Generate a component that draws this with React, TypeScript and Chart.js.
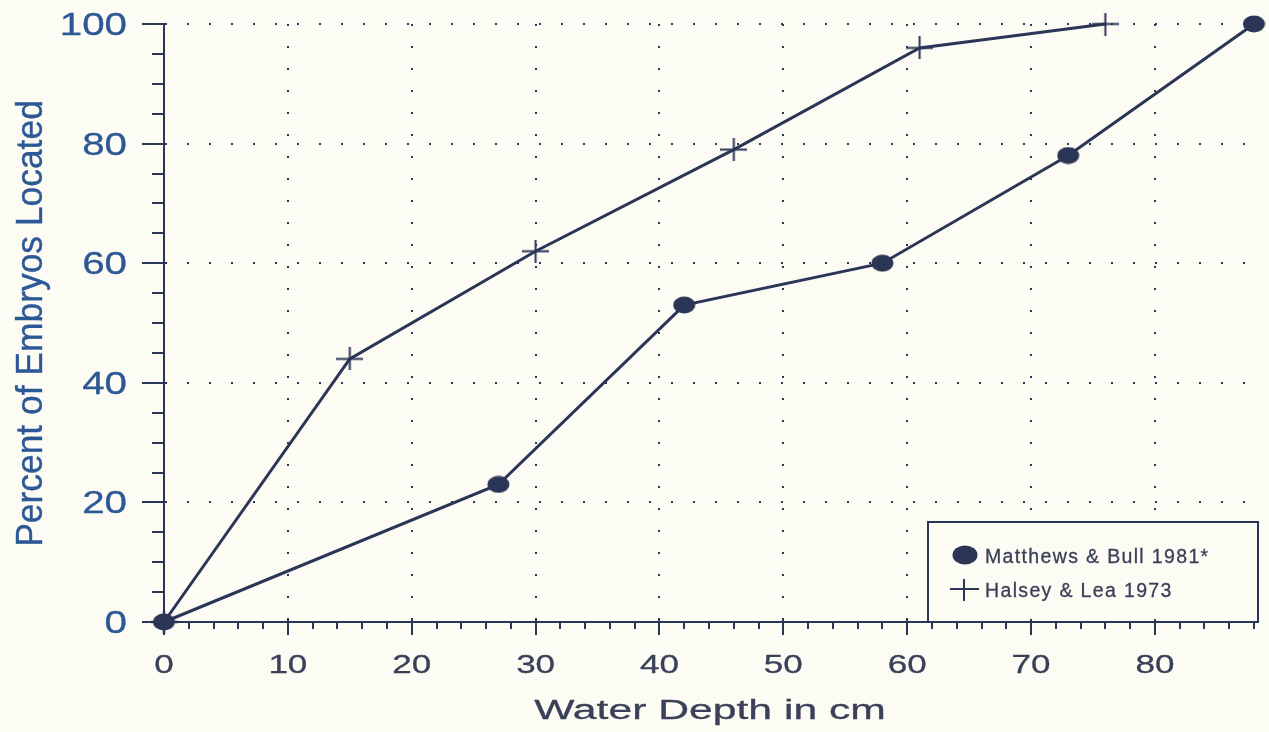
import React, { useEffect, useRef } from "react";
import { Chart, registerables } from "chart.js";

Chart.register(...registerables);

// ---- data ----
const matthewsDepth = [0, 27, 42, 58, 73, 88];
const matthewsPercent = [0, 23, 53, 60, 78, 100];
const halseyDepth = [0, 15, 30, 46, 61, 76];
const halseyPercent = [0, 44, 62, 79, 96, 100];

const seriesLabels = ["Matthews & Bull 1981*", "Halsey & Lea 1973"];
const xTickValues = [0, 10, 20, 30, 40, 50, 60, 70, 80];
const xTickLabels = ["0", "10", "20", "30", "40", "50", "60", "70", "80"];
const yTickValues = [0, 20, 40, 60, 80, 100];
const yTickLabels = ["0", "20", "40", "60", "80", "100"];
const xTitle = "Water Depth in cm";
const yTitle = "Percent of Embryos Located";

// ---- styles ----
const NAVY = "#2b3556";
const BLUE = "#2d5896";
const SLATE = "#3a4058";
const BG = "#fdfcf4";
const FONT = "'Liberation Sans', Arial, sans-serif";

function drawStretched(
  ctx: CanvasRenderingContext2D,
  text: string,
  x: number,
  y: number,
  align: "left" | "center" | "right",
  sx: number,
  sy: number,
  font: string,
  color: string,
  weight = 0.3,
  spacing = 0
) {
  ctx.save();
  ctx.font = font;
  (ctx as any).letterSpacing = `${spacing}px`;
  ctx.fillStyle = color;
  ctx.strokeStyle = color;
  ctx.lineWidth = weight;
  ctx.textBaseline = "alphabetic";
  ctx.textAlign = "left";
  const w = ctx.measureText(text).width * sx;
  const left = align === "center" ? x - w / 2 : align === "right" ? x - w : x;
  ctx.translate(left, y);
  ctx.scale(sx, sy);
  ctx.fillText(text, 0, 0);
  if (weight > 0) ctx.strokeText(text, 0, 0);
  ctx.restore();
}

function makeEllipse(w: number, h: number): HTMLCanvasElement {
  const c = document.createElement("canvas");
  c.width = w;
  c.height = h;
  const g = c.getContext("2d")!;
  g.fillStyle = NAVY;
  g.beginPath();
  g.ellipse(w / 2, h / 2, w / 2 - 0.5, h / 2 - 0.5, 0, 0, Math.PI * 2);
  g.fill();
  return c;
}

function makeCross(w: number, h: number): HTMLCanvasElement {
  const c = document.createElement("canvas");
  c.width = w;
  c.height = h;
  const g = c.getContext("2d")!;
  g.strokeStyle = NAVY;
  g.lineWidth = 2;
  g.beginPath();
  g.moveTo(0, h / 2);
  g.lineTo(w, h / 2);
  g.moveTo(w / 2, 0);
  g.lineTo(w / 2, h);
  g.stroke();
  return c;
}

const bgPlugin = {
  id: "bgFill",
  beforeDraw(chart: any) {
    const { ctx, width, height } = chart;
    ctx.save();
    ctx.fillStyle = BG;
    ctx.fillRect(0, 0, width, height);
    ctx.restore();
  },
};

const axisPlugin = {
  id: "axisDecor",
  afterDraw(chart: any) {
    const { ctx } = chart;
    const xs = chart.scales.x;
    const ys = chart.scales.y;
    const axisY = ys.getPixelForValue(0);
    const axisX = xs.getPixelForValue(0);
    ctx.save();
    ctx.strokeStyle = NAVY;
    for (let v = 0; v <= xs.max + 0.001; v += 2) {
      const px = Math.round(xs.getPixelForValue(v));
      const major = v % 10 === 0;
      ctx.lineWidth = 2;
      ctx.beginPath();
      ctx.moveTo(px, major ? axisY - 3 : axisY);
      ctx.lineTo(px, major ? axisY + 13 : axisY + 7);
      ctx.stroke();
    }
    for (let v = 0; v <= 100; v += 5) {
      const py = Math.round(ys.getPixelForValue(v));
      const major = v % 20 === 0;
      ctx.lineWidth = 2;
      ctx.beginPath();
      ctx.moveTo(major ? axisX - 22 : axisX - 12, py);
      ctx.lineTo(axisX + 1, py);
      ctx.stroke();
    }
    ctx.restore();

    xTickValues.forEach((v, i) => {
      const px = xs.getPixelForValue(v);
      drawStretched(ctx, xTickLabels[i], px, 673, "center", 1.4, 1, `25px ${FONT}`, SLATE);
    });
    yTickValues.forEach((v, i) => {
      const py = ys.getPixelForValue(v);
      drawStretched(ctx, yTickLabels[i], 127, py + 11, "right", 1.3, 1, `31px ${FONT}`, BLUE);
    });

    const cx = (chart.chartArea.left + chart.chartArea.right) / 2;
    drawStretched(ctx, xTitle, cx + 1, 719, "center", 1.58, 1, `27px ${FONT}`, SLATE);
    ctx.save();
    ctx.translate(42, 323.5);
    ctx.rotate(-Math.PI / 2);
    drawStretched(ctx, yTitle, 0, 0, "center", 1.18, 1.25, `30px ${FONT}`, BLUE);
    ctx.restore();
  },
};

const legendPlugin = {
  id: "boxLegend",
  afterDatasetsDraw(chart: any) {
    const { ctx } = chart;
    const left = 928, top = 522, right = 1258, bottom = 622;
    ctx.save();
    ctx.fillStyle = BG;
    ctx.fillRect(left, top, right - left, bottom - top);
    ctx.strokeStyle = NAVY;
    ctx.lineWidth = 2;
    ctx.strokeRect(left, top, right - left, bottom - top);
    ctx.fillStyle = NAVY;
    ctx.beginPath();
    ctx.ellipse(965, 555, 12.5, 9.5, 0, 0, Math.PI * 2);
    ctx.fill();
    ctx.lineWidth = 2;
    ctx.beginPath();
    ctx.moveTo(950, 589);
    ctx.lineTo(979, 589);
    ctx.moveTo(964, 579);
    ctx.lineTo(964, 601);
    ctx.stroke();
    ctx.restore();
    drawStretched(ctx, chart.data.datasets[0].label, 985, 563, "left", 1.0, 1, `19.5px ${FONT}`, SLATE, 0.3, 1.35);
    drawStretched(ctx, chart.data.datasets[1].label, 985, 597, "left", 1.0, 1, `19.5px ${FONT}`, SLATE, 0.3, 1.35);
  },
};

export default function App() {
  const ref = useRef<HTMLCanvasElement | null>(null);

  useEffect(() => {
    document.body.style.margin = "0";
    document.body.style.background = BG;
    const canvas = ref.current;
    if (!canvas) return;
    const dot = makeEllipse(23, 18);
    const cross = makeCross(27, 23);
    const chart = new Chart(canvas, {
      type: "line",
      data: {
        datasets: [
          {
            label: seriesLabels[0],
            data: matthewsDepth.map((x, i) => ({ x, y: matthewsPercent[i] })),
            borderColor: NAVY,
            backgroundColor: NAVY,
            borderWidth: 3,
            pointStyle: dot,
            pointRadius: 11,
            clip: false,
            tension: 0,
          },
          {
            label: seriesLabels[1],
            data: halseyDepth.map((x, i) => ({ x, y: halseyPercent[i] })),
            borderColor: NAVY,
            backgroundColor: NAVY,
            borderWidth: 3,
            pointStyle: cross,
            pointRadius: 12,
            clip: false,
            tension: 0,
          },
        ],
      },
      options: {
        responsive: false,
        maintainAspectRatio: false,
        animation: false,
        layout: { padding: { top: 24, right: 12, left: 0, bottom: 0 } },
        plugins: {
          legend: { display: false },
          tooltip: { enabled: false },
        },
        scales: {
          x: {
            type: "linear",
            min: 0,
            max: 88,
            ticks: { display: false, stepSize: 10, includeBounds: false },
            grid: { color: NAVY, lineWidth: 2, drawTicks: false },
            border: { display: true, color: NAVY, width: 2, dash: [2, 20] },
            afterFit: (s: any) => {
              s.height = 110;
            },
          },
          y: {
            type: "linear",
            min: 0,
            max: 100,
            ticks: { display: false, stepSize: 20, includeBounds: false },
            grid: { color: NAVY, lineWidth: 2, drawTicks: false },
            border: { display: true, color: NAVY, width: 2, dash: [2, 20] },
            afterFit: (s: any) => {
              s.width = 164;
            },
          },
        },
      },
      plugins: [bgPlugin, axisPlugin, legendPlugin],
    } as any);
    return () => chart.destroy();
  }, []);

  return (
    <div style={{ width: 1269, height: 732, overflow: "hidden" }}>
      <canvas ref={ref} width={1269} height={732} style={{ display: "block" }} />
    </div>
  );
}
